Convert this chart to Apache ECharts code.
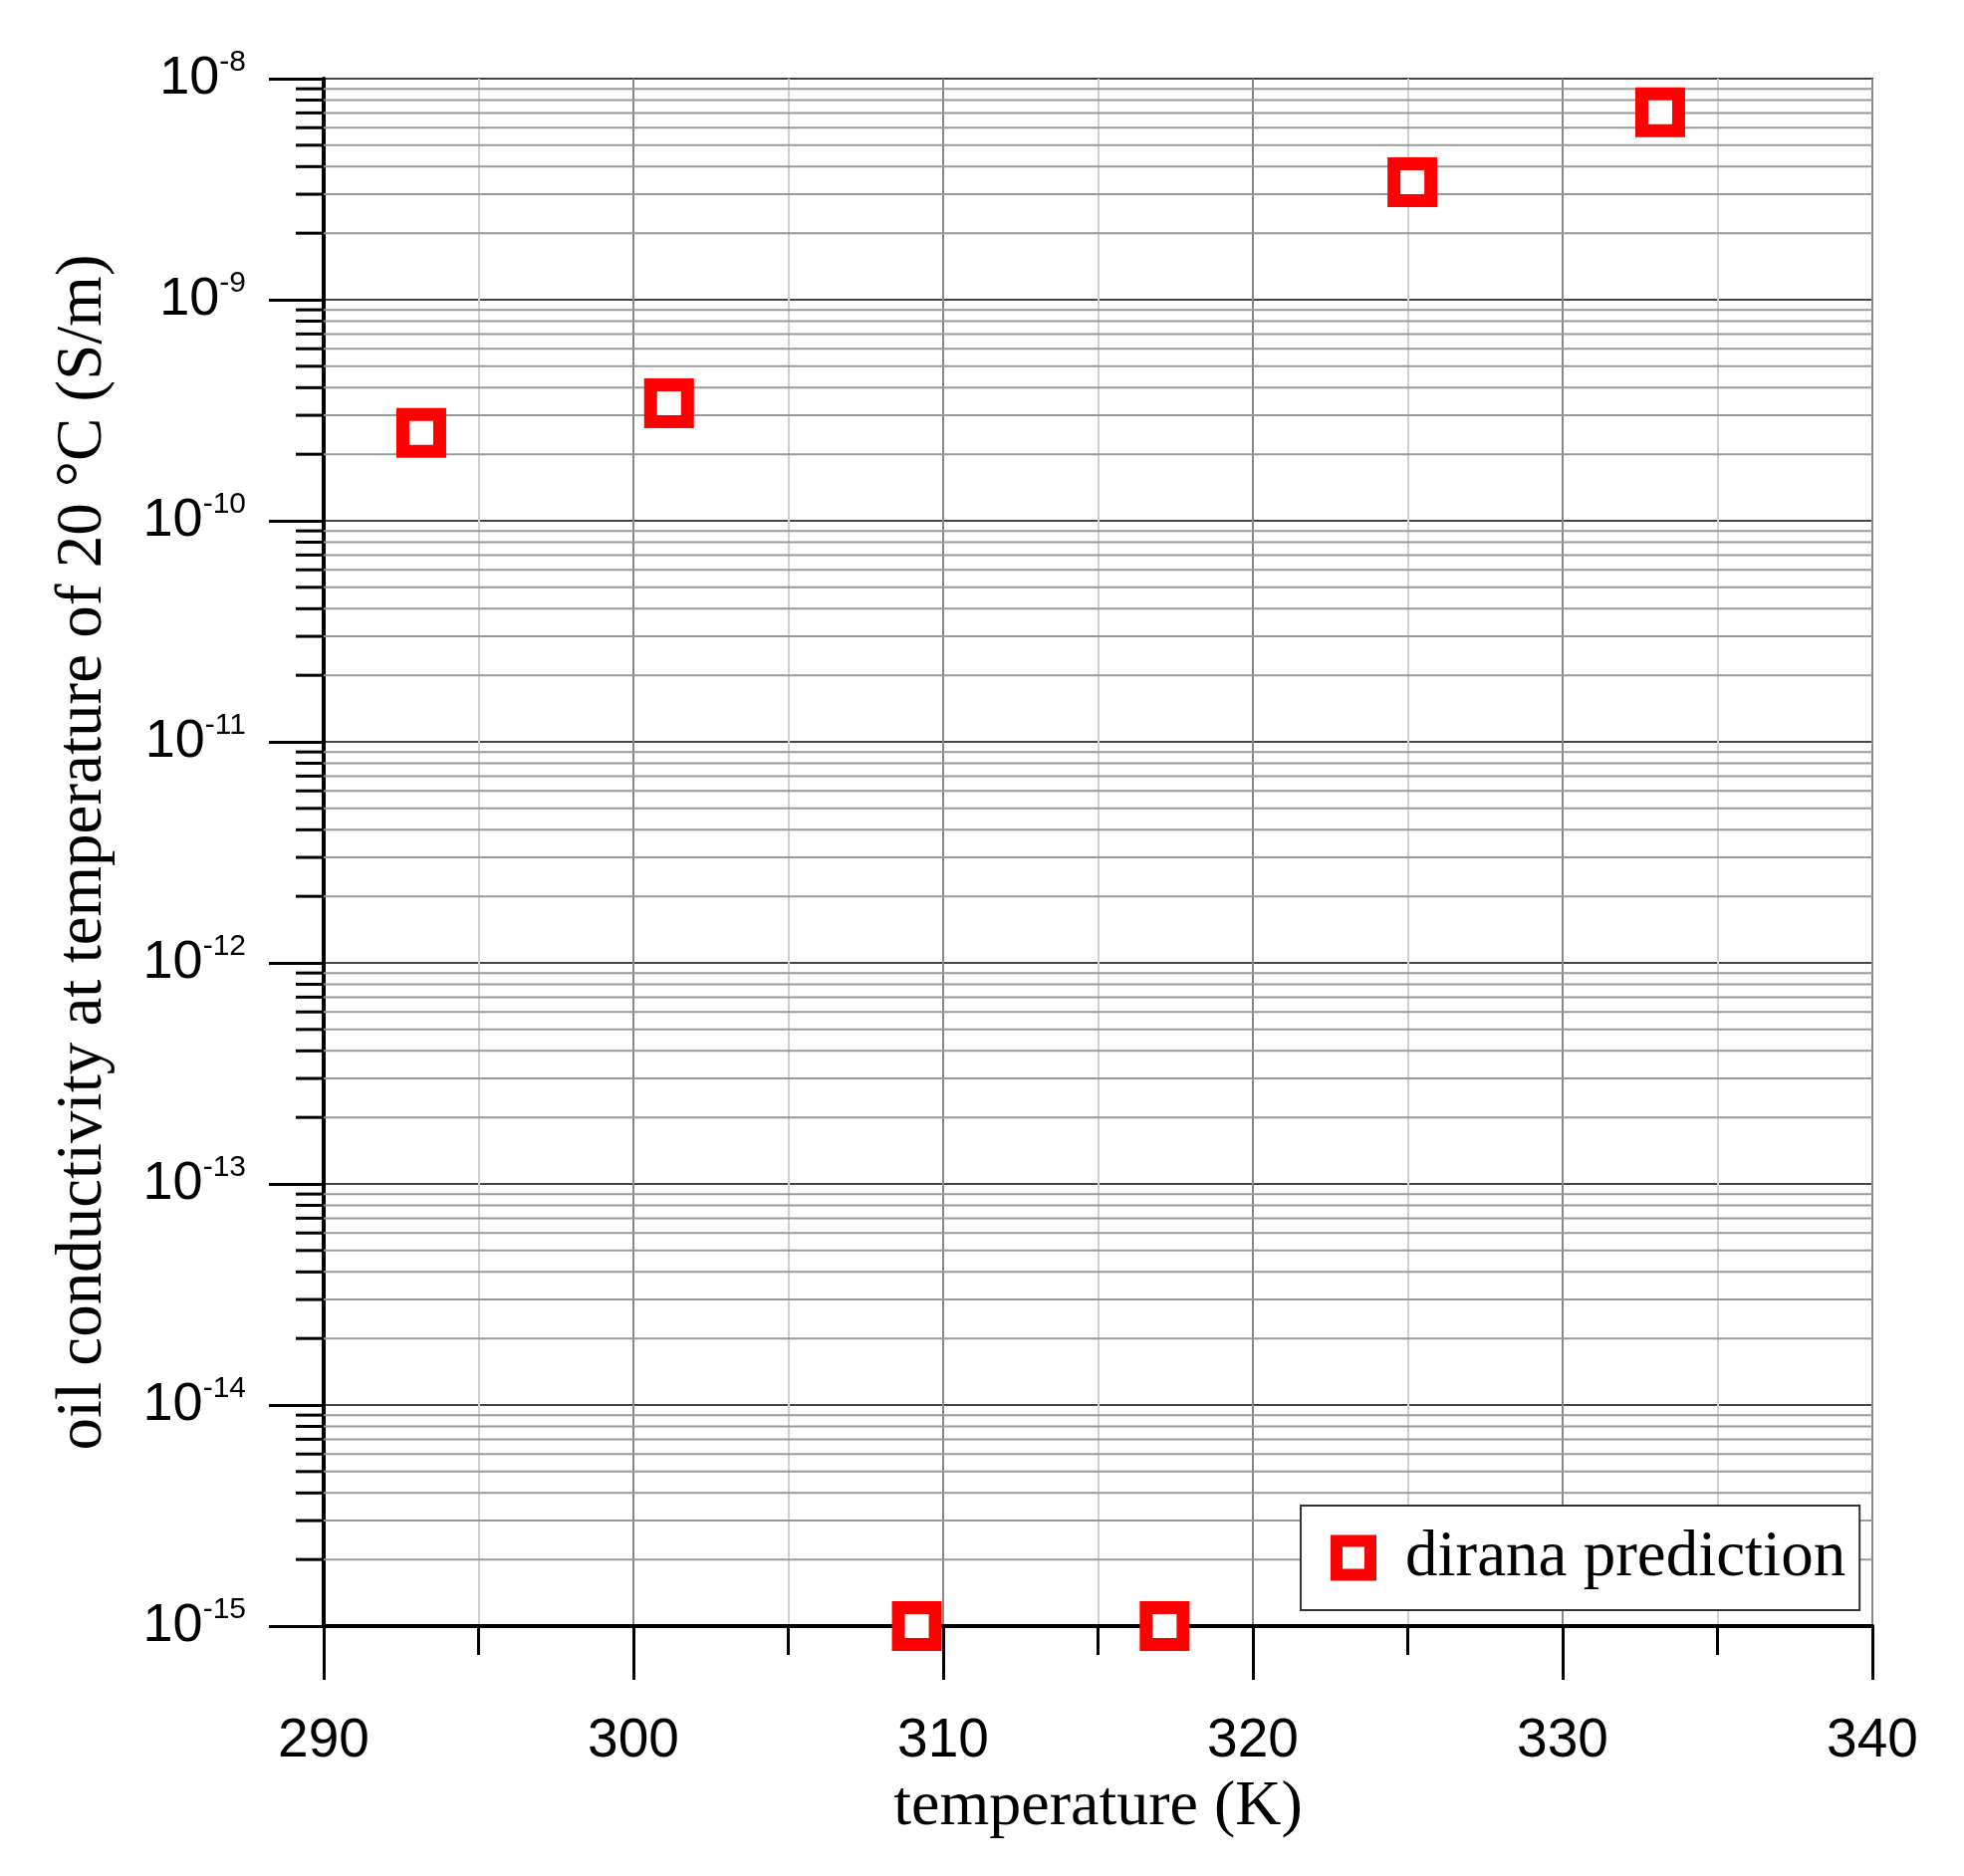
<!DOCTYPE html>
<html>
<head>
<meta charset="utf-8">
<script src="https://cdn.jsdelivr.net/npm/echarts@6/dist/echarts.min.js"></script>
<style>html,body{margin:0;padding:0;background:#fff}#c{width:1972px;height:1884px}</style>
</head>
<body>
<div id="c"></div>
<script>
// ---- data ----
const temperatureK = [293.15, 301.15, 309.15, 317.15, 325.15, 333.15];
const conductivity = [2.5e-10, 3.4e-10, 1e-15, 1e-15, 3.4e-9, 7.05e-9];
const seriesName = 'dirana prediction';
const xTitle = 'temperature (K)';
const yTitle = 'oil conductivity at temperature of 20 \u00B0C (S/m)';
const yDecadeMin = -15, yDecadeMax = -8;
const xMin = 290, xMax = 340, xStep = 10;

// minor (2..9 x 10^k) tick values for the log axis
const minorValues = [];
for (let k = yDecadeMin; k < yDecadeMax; k++) {
  for (let m = 2; m <= 9; m++) minorValues.push(m * Math.pow(10, k));
}

const chart = echarts.init(document.getElementById('c'), null, {renderer: 'canvas'});
const sans = 'Liberation Sans, Arial, sans-serif';
const serif = 'Liberation Serif, Times New Roman, serif';

chart.setOption({
  backgroundColor: '#fff',
  animation: false,
  grid: {left: 325, right: 92, top: 79, bottom: 251, show: true, borderColor: '#444', borderWidth: 2, backgroundColor: 'transparent'},
  legend: {
    show: true,
    left: 1306, top: 1512,
    data: [seriesName],
    backgroundColor: '#fff',
    borderColor: '#333', borderWidth: 2,
    padding: [20, 14, 20, 30],
    itemWidth: 34, itemHeight: 34,
    itemStyle: {color: '#fff', borderColor: '#ff0000', borderWidth: 12, opacity: 1},
    textStyle: {fontFamily: serif, fontSize: 65, color: '#000', padding: [0, 0, 0, 30]}
  },
  xAxis: {
    type: 'value', min: xMin, max: xMax, interval: xStep,
    name: xTitle, nameLocation: 'middle', nameGap: 150,
    nameTextStyle: {fontFamily: serif, fontSize: 64, color: '#000'},
    axisLine: {show: true, onZero: false, lineStyle: {color: '#000', width: 4}},
    axisTick: {show: true, inside: false, length: 54, lineStyle: {color: '#000', width: 3}},
    minorTick: {show: true, splitNumber: 2, length: 29, lineStyle: {color: '#000', width: 3}},
    axisLabel: {margin: 88, fontFamily: sans, fontSize: 55, color: '#000'},
    splitLine: {show: true, lineStyle: {color: '#888', width: 2}},
    minorSplitLine: {show: true, lineStyle: {color: '#d0d0d0', width: 2}}
  },
  yAxis: {
    type: 'log', logBase: 10, min: Math.pow(10, yDecadeMin), max: Math.pow(10, yDecadeMax), splitNumber: 7,
    name: yTitle, nameLocation: 'middle', nameGap: 209, nameRotate: 90,
    nameTextStyle: {fontFamily: serif, fontSize: 65, color: '#000'},
    axisLine: {show: true, onZero: false, lineStyle: {color: '#000', width: 4}},
    axisTick: {show: true, inside: false, length: 55, lineStyle: {color: '#000', width: 3}},
    axisLabel: {
      margin: 78,
      formatter: function (v) { return '{b|10}{s|' + Math.round(Math.log10(v)) + '}'; },
      rich: {
        b: {fontFamily: sans, fontSize: 54, color: '#000'},
        s: {fontFamily: sans, fontSize: 30, color: '#000', padding: [0, 0, 32, 0]}
      }
    },
    splitLine: {show: true, lineStyle: {color: '#444', width: 2}}
  },
  series: [
    {
      type: 'custom',
      name: 'minor',
      silent: true,
      z: 1,
      clip: false,
      data: minorValues.map(v => [xMin, v]),
      renderItem: function (params, api) {
        const p = api.coord([xMin, api.value(1)]);
        const cs = params.coordSys;
        return {
          type: 'group',
          children: [
            {type: 'line', shape: {x1: cs.x, y1: p[1], x2: cs.x + cs.width, y2: p[1]}, style: {stroke: '#9a9a9a', lineWidth: 2}},
            {type: 'line', shape: {x1: cs.x - 28, y1: p[1], x2: cs.x, y2: p[1]}, style: {stroke: '#000', lineWidth: 3}}
          ]
        };
      }
    },
    {
      type: 'scatter',
      name: seriesName,
      z: 5,
      clip: false,
      symbol: 'rect',
      symbolSize: 37,
      itemStyle: {color: '#fff', borderColor: '#ff0000', borderWidth: 13, opacity: 1},
      data: temperatureK.map((t, i) => [t, conductivity[i]])
    }
  ]
});
</script>
</body>
</html>
